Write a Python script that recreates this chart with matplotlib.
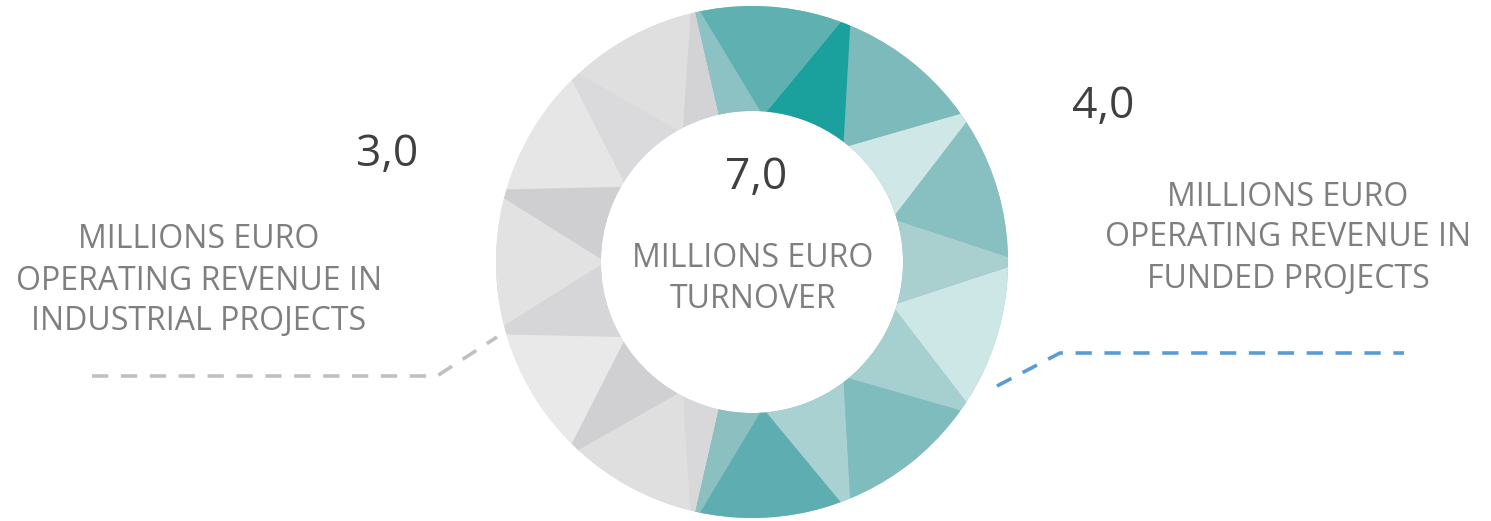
import numpy as np
import matplotlib
matplotlib.use("Agg")
import matplotlib.pyplot as plt
from matplotlib.patches import Polygon

plt.rcParams["font.family"] = ["Open Sans", "DejaVu Sans"]

# revenue split, millions of euro
segments = ["Funded projects", "Industrial projects"]
values = [4.0, 3.0]
total_label = "7,0"
value_labels = ["4,0", "3,0"]
captions = [
    "MILLIONS EURO\nOPERATING REVENUE IN\nFUNDED PROJECTS",
    "MILLIONS EURO\nOPERATING REVENUE IN\nINDUSTRIAL PROJECTS",
]
center_caption = "MILLIONS EURO\nTURNOVER"

# low-poly shading for each ring segment
facet_shades = [
    ["#8bbfc0", "#5eadb0", "#a9d1d1", "#7fbcbd", "#a6cfcf", "#cde6e6",
     "#aacfcf", "#88c0c1", "#d0e7e7", "#7dbabb", "#1aa09d", "#5fb0b1",
     "#8cc2c3"],
    ["#d3d3d5", "#e0dfe0", "#dadadc", "#e6e6e7", "#cfcfd1", "#e2e2e3",
     "#d6d6d8", "#e9e9ea", "#d0d0d2", "#dfdfe0", "#d8d8da"],
]
base_colors = ["#8cc2c3", "#dcdcdd"]

W, H = 1491, 521
cx, cy, r_out = 752, 259, 256
ring = 0.41 * r_out

fig = plt.figure(figsize=(W / 100, H / 100), dpi=100)
ax = fig.add_axes([0, 0, 1, 1])

start = 90 + 180 * (values[0] - values[1]) / sum(values) / 2
wedges, _ = ax.pie(values, colors=base_colors, startangle=start,
                   counterclock=False, radius=r_out, center=(cx, cy),
                   wedgeprops=dict(width=ring, linewidth=0))


def facets(w, shades):
    # strip of triangles between an outer and inner polygon, clipped to the wedge
    t1, t2 = w.theta1, w.theta2
    n = len(shades) // 2
    step = (t2 - t1) / n
    a_out = np.radians(np.linspace(t1, t2, n + 1))
    a_in = np.radians(np.linspace(t1 - step / 2, t2 + step / 2, n + 2))
    ro, ri = r_out * 1.06, (r_out - ring) * 0.97
    po = np.c_[cx + ro * np.cos(a_out), cy + ro * np.sin(a_out)]
    pi = np.c_[cx + ri * np.cos(a_in), cy + ri * np.sin(a_in)]
    k = 0
    for i in range(n):
        tris = [[pi[i], pi[i + 1], po[i]], [po[i], po[i + 1], pi[i + 1]]]
        for tri in tris:
            p = Polygon(tri, closed=True, facecolor=shades[k % len(shades)],
                        edgecolor="none")
            ax.add_patch(p)
            p.set_clip_path(w)
            k += 1
    last = Polygon([po[n], pi[n], pi[n + 1]], closed=True,
                   facecolor=shades[k % len(shades)], edgecolor="none")
    ax.add_patch(last)
    last.set_clip_path(w)


for w, shades in zip(wedges, facet_shades):
    facets(w, shades)

ax.set_xlim(0, W)
ax.set_ylim(0, H)
ax.set_aspect("equal")
ax.axis("off")

num_kw = dict(fontsize=32, color="#404040", ha="center", va="center")
cap_kw = dict(fontsize=23, color="#7f7f7f", ha="center", va="center",
              linespacing=1.32)

ax.text(cx + 4, H - 178, total_label, **num_kw)
ax.text(cx + 1, H - 279, center_caption, **cap_kw)

ax.text(1103, H - 107, value_labels[0], **num_kw)
ax.text(1288, H - 238, captions[0], **cap_kw)
ax.text(387, H - 155, value_labels[1], **num_kw)
ax.text(199, H - 281, captions[1], **cap_kw)

# leader lines
ax.plot([997, 1060, 1404], [H - 386, H - 353, H - 353], color="#5b9bd5",
        lw=2.6, ls=(0, (4.5, 3.5)), solid_capstyle="butt")
ax.plot([92, 437, 497], [H - 376, H - 376, H - 337], color="#c0c0c0",
        lw=2.6, ls=(0, (4.5, 3.5)), solid_capstyle="butt")

fig.savefig("out.png", dpi=100, facecolor="white")
